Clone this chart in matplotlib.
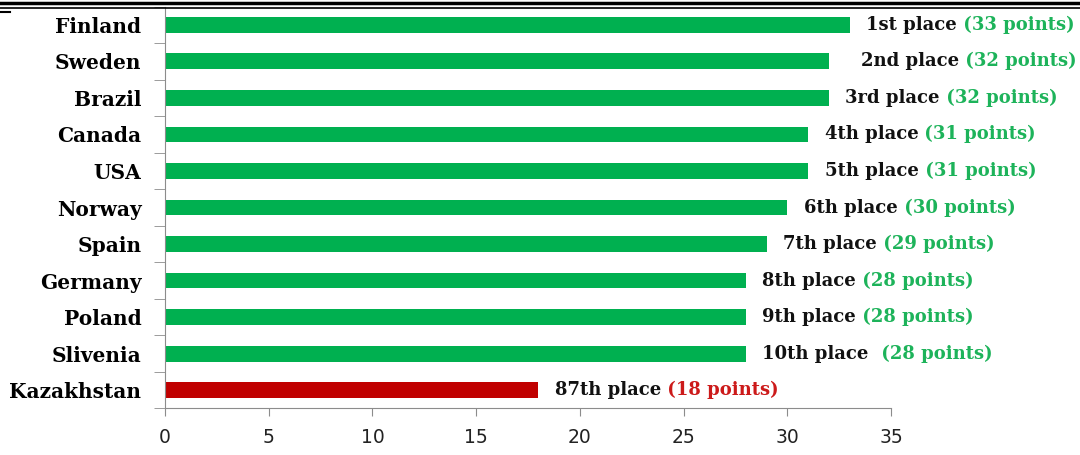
import matplotlib.pyplot as plt
from matplotlib.ticker import MultipleLocator, FixedLocator

countries = ["Finland", "Sweden", "Brazil", "Canada", "USA", "Norway",
             "Spain", "Germany", "Poland", "Slivenia", "Kazakhstan"]
points = [33, 32, 32, 31, 31, 30, 29, 28, 28, 28, 18]
places = ["1st place", "2nd place", "3rd place", "4th place", "5th place",
          "6th place", "7th place", "8th place", "9th place", "10th place ",
          "87th place"]

GREEN = "#00B050"
RED = "#C00000"
GREEN_TXT = "#1DB35A"
RED_TXT = "#CC1A1A"

# in the original the Sweden label sits a bit further right
extra_shift = {"Sweden": 11}

fig = plt.figure(figsize=(10.8, 4.55), dpi=100)
ax = fig.add_axes([0.1528, 0.1022, 0.825 - 0.1528, 0.9857 - 0.1022])

n = len(countries)
ypos = [n - 1 - i for i in range(n)]
colors = [GREEN] * (n - 1) + [RED]
ax.barh(ypos, points, height=0.43, color=colors, zorder=2)

ax.set_xlim(0, 35)
ax.set_ylim(-0.5, n - 0.5)
ax.xaxis.set_major_locator(MultipleLocator(5))
ax.set_yticks(ypos)
ax.set_yticklabels(countries, fontsize=14.5, fontweight="bold",
                   family="DejaVu Serif")
ax.yaxis.set_minor_locator(FixedLocator([y + 0.5 for y in range(-1, n)]))
ax.tick_params(axis="y", which="major", length=0, pad=17)
ax.tick_params(axis="y", which="minor", length=8, color="#8c8c8c")
ax.tick_params(axis="x", length=6, color="#8c8c8c", labelsize=13.5,
               labelcolor="#222222", pad=8)
for lab in ax.get_xticklabels():
    lab.set_family("DejaVu Sans")

for side in ["top", "right"]:
    ax.spines[side].set_visible(False)
for side in ["left", "bottom"]:
    ax.spines[side].set_color("#8c8c8c")

for name, y, p, pl, c in zip(countries, ypos, points, places, colors):
    tc = RED_TXT if c == RED else GREEN_TXT
    dx = 12 + extra_shift.get(name, 0)
    t1 = ax.annotate(pl, xy=(p, y), xytext=(dx, 0), textcoords="offset points",
                     va="center", ha="left", fontsize=13, fontweight="bold",
                     family="DejaVu Serif", color="#111111")
    ax.annotate(" (%d points)" % p, xy=(1, 0), xycoords=t1,
                va="bottom", ha="left", fontsize=13, fontweight="bold",
                family="DejaVu Serif", color=tc)

# double rule at the top of the image
fig.add_artist(plt.Line2D([0, 1], [0.994, 0.994], color="black", lw=2.5,
                          transform=fig.transFigure))
fig.add_artist(plt.Line2D([0, 1], [0.983, 0.983], color="black", lw=1.2,
                          transform=fig.transFigure))
fig.add_artist(plt.Line2D([0, 0.009], [0.973, 0.973], color="black", lw=1.5,
                          transform=fig.transFigure))

fig.savefig("out.png", dpi=100)
